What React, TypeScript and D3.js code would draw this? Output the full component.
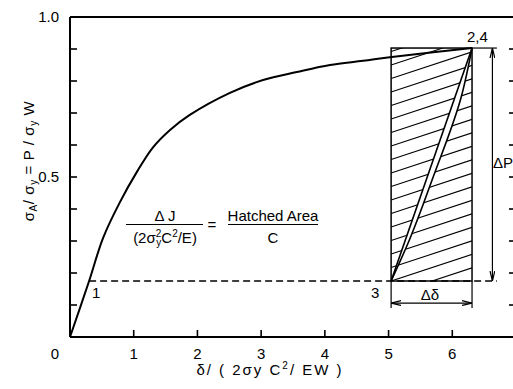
import React from "react";
import * as d3 from "d3";

// loading curve (dimensionless displacement vs load)
const curveX = [0, 0.3, 0.52, 0.78, 1.05, 1.3, 1.57, 1.88, 2.51, 3.03, 3.56, 4.08, 4.6, 5.05, 6.31];
const curveY = [0, 0.175, 0.31, 0.42, 0.516, 0.592, 0.647, 0.694, 0.763, 0.803, 0.828, 0.85, 0.863, 0.875, 0.903];

// unloading 2 -> 3 and reloading 3 -> 4
const unloadX = [6.31, 5.04];
const unloadY = [0.903, 0.175];
const reloadX = [5.04, 5.32, 5.7, 6.14, 6.31];
const reloadY = [0.175, 0.3, 0.5, 0.75, 0.903];

const point1 = [0.3, 0.175];
const dashEndX = 6.7;
const areaX = [5.04, 6.31];
const areaY = [0.175, 0.903];
const dPx = 6.63;
const dDeltaY = 0.106;

const xTicks = [0, 1, 2, 3, 4, 5, 6, 7];
const xTickLabels = ["0", "1", "2", "3", "4", "5", "6"];
const yTicks = [0.1, 0.2, 0.3, 0.4, 0.5, 0.6, 0.7, 0.8, 0.9];
const yTickLabels = ["1.0", "0.5"];
const yTickLabelValues = [1.0, 0.5];

const W = 513;
const H = 389;
const font = "'Liberation Sans', Arial, sans-serif";

export default function App() {
  const x = d3.scaleLinear().domain([0, 7]).range([70, 516]);
  const y = d3.scaleLinear().domain([0, 1]).range([337, 17]);

  const smooth = d3
    .line<[number, number]>()
    .x((d) => x(d[0]))
    .y((d) => y(d[1]))
    .curve(d3.curveCatmullRom.alpha(0.5));

  const curvePts = curveX.map((v, i) => [v, curveY[i]] as [number, number]);
  const unloadPts = unloadX.map((v, i) => [v, unloadY[i]] as [number, number]);
  const reloadPts = reloadX.map((v, i) => [v, reloadY[i]] as [number, number]);

  const straight = d3.line<[number, number]>().x((d) => x(d[0])).y((d) => y(d[1]));
  const bent = d3
    .line<[number, number]>()
    .x((d) => x(d[0]))
    .y((d) => y(d[1]))
    .curve(d3.curveMonotoneY);

  // hatch
  const hx0 = x(areaX[0]);
  const hx1 = x(areaX[1]);
  const hy0 = y(areaY[1]);
  const hy1 = y(areaY[0]);
  const slope = 0.33;
  const gap = 13.5;
  const hatch = d3.range(hy0 - 10, hy1 + (hx1 - hx0) * slope + 5, gap);

  const lensPath =
    straight(unloadPts)! +
    bent(reloadPts.slice().reverse())!.replace(/^M/, "L") +
    "Z";

  const sub = 10;
  return (
    <svg
      width={W}
      height={H}
      style={{ position: "absolute", left: 0, top: 0, background: "#fff" }}
      fontFamily={font}
    >
      <defs>
        <clipPath id="area">
          <rect x={hx0} y={hy0} width={hx1 - hx0} height={hy1 - hy0} />
        </clipPath>
        <marker
          id="arr"
          viewBox="0 0 10 6"
          refX={10}
          refY={3}
          markerWidth={10}
          markerHeight={6}
          markerUnits="userSpaceOnUse"
          orient="auto-start-reverse"
        >
          <path d="M0,0.6 L10,3 L0,5.4" fill="none" stroke="#000" strokeWidth={1.2} />
        </marker>
      </defs>

      {/* frame */}
      <g stroke="#000" strokeWidth={2} fill="none">
        <line x1={x(0)} x2={x(7)} y1={y(0)} y2={y(0)} />
        <line x1={x(0)} x2={x(7)} y1={y(1)} y2={y(1)} />
        <line x1={x(0)} x2={x(0)} y1={y(0)} y2={y(1)} />
        <line x1={x(7)} x2={x(7)} y1={y(0)} y2={y(1)} />
      </g>
      <g stroke="#000" strokeWidth={1.6}>
        {xTicks.map((t) => (
          <line key={"xt" + t} x1={x(t)} x2={x(t)} y1={y(0)} y2={y(0) - 7} />
        ))}
        {yTicks.map((t) => (
          <g key={"yt" + t}>
            <line x1={x(0)} x2={x(0) + 7} y1={y(t)} y2={y(t)} />
            <line x1={x(7)} x2={x(7) - 7} y1={y(t)} y2={y(t)} />
          </g>
        ))}
      </g>
      <g fontSize={15} fill="#000">
        {xTickLabels.map((l, i) => (
          <text
            key={"xl" + l}
            x={i === 0 ? x(0) - 15 : x(xTicks[i])}
            y={y(0) + 22}
            textAnchor="middle"
          >
            {l}
          </text>
        ))}
        {yTickLabels.map((l, i) => (
          <text key={"yl" + l} x={x(0) - 11} y={y(yTickLabelValues[i]) + 5} textAnchor="end">
            {l}
          </text>
        ))}
      </g>

      {/* axis titles */}
      <text
        fontSize={15}
        transform={`translate(34,161) rotate(-90)`}
        textAnchor="middle"
        letterSpacing={0.6}
      >
        σ<tspan fontSize={sub} dy={3}>A</tspan>
        <tspan dy={-3}>/ σ</tspan>
        <tspan fontSize={sub} dy={3}>y</tspan>
        <tspan dy={-3}> = P / σ</tspan>
        <tspan fontSize={sub} dy={3}>y</tspan>
        <tspan dy={-3}> W</tspan>
      </text>
      <text fontSize={15} x={270} y={375} textAnchor="middle" letterSpacing={2}>
        δ/ ( 2σy C<tspan fontSize={sub} dy={-6}>2</tspan>
        <tspan dy={6}>/ EW )</tspan>
      </text>

      {/* hatched area */}
      <g clipPath="url(#area)" stroke="#000" strokeWidth={1.1}>
        {hatch.map((h) => (
          <line key={"h" + h} x1={hx0} y1={h} x2={hx1} y2={h - (hx1 - hx0) * slope} />
        ))}
      </g>
      <path d={lensPath} fill="#fff" stroke="none" />
      <rect
        x={hx0}
        y={hy0}
        width={hx1 - hx0}
        height={hy1 - hy0}
        fill="none"
        stroke="#000"
        strokeWidth={1.5}
      />
      <path d={straight(unloadPts)!} fill="none" stroke="#000" strokeWidth={1.6} />
      <path d={bent(reloadPts)!} fill="none" stroke="#000" strokeWidth={1.6} />

      {/* dashed line 1 -> 3 */}
      <line
        x1={x(point1[0])}
        x2={x(dashEndX)}
        y1={y(point1[1])}
        y2={y(point1[1])}
        stroke="#000"
        strokeWidth={1.4}
        strokeDasharray="7,4"
      />

      {/* loading curve */}
      <path d={smooth(curvePts)!} fill="none" stroke="#000" strokeWidth={2} />

      {/* dimension lines */}
      <g stroke="#000" strokeWidth={1.2} fill="none">
        <line x1={hx1} x2={x(dashEndX)} y1={hy0} y2={hy0} />
        <line
          x1={x(dPx)}
          x2={x(dPx)}
          y1={hy0}
          y2={hy1}
          markerStart="url(#arr)"
          markerEnd="url(#arr)"
        />
        <line x1={hx0} x2={hx0} y1={hy1} y2={y(dDeltaY) + 5} />
        <line x1={hx1} x2={hx1} y1={hy1} y2={y(dDeltaY) + 5} />
        <line
          x1={hx0}
          x2={hx1}
          y1={y(dDeltaY)}
          y2={y(dDeltaY)}
          markerStart="url(#arr)"
          markerEnd="url(#arr)"
        />
      </g>

      {/* point labels */}
      <g fontSize={15}>
        <text x={x(0.345)} y={y(0.122)}>1</text>
        <text x={x(4.79)} y={y(0.122)} textAnchor="middle">3</text>
        <text x={x(6.23)} y={y(0.922)}>2,4</text>
        <text x={x(5.65)} y={y(0.116)} textAnchor="middle">Δδ</text>
        <text x={x(6.64)} y={y(0.528)}>ΔP</text>
      </g>

      {/* equation */}
      <g fontSize={15}>
        <text x={165} y={221} textAnchor="middle">Δ J</text>
        <line x1={126} x2={203} y1={224.5} y2={224.5} stroke="#000" strokeWidth={1.2} />
        <text x={165} y={243} textAnchor="middle">
          (2σ<tspan fontSize={sub} dy={-6}>2</tspan>
          <tspan fontSize={sub} dy={9} dx={-5}>y</tspan>
          <tspan dy={-3}>C</tspan>
          <tspan fontSize={sub} dy={-6}>2</tspan>
          <tspan dy={6}>/E)</tspan>
        </text>
        <text x={212} y={230} textAnchor="middle">=</text>
        <text x={273} y={221} textAnchor="middle">Hatched Area</text>
        <line x1={228} x2={318} y1={224.5} y2={224.5} stroke="#000" strokeWidth={1.2} />
        <text x={273} y={243} textAnchor="middle">C</text>
      </g>
    </svg>
  );
}
